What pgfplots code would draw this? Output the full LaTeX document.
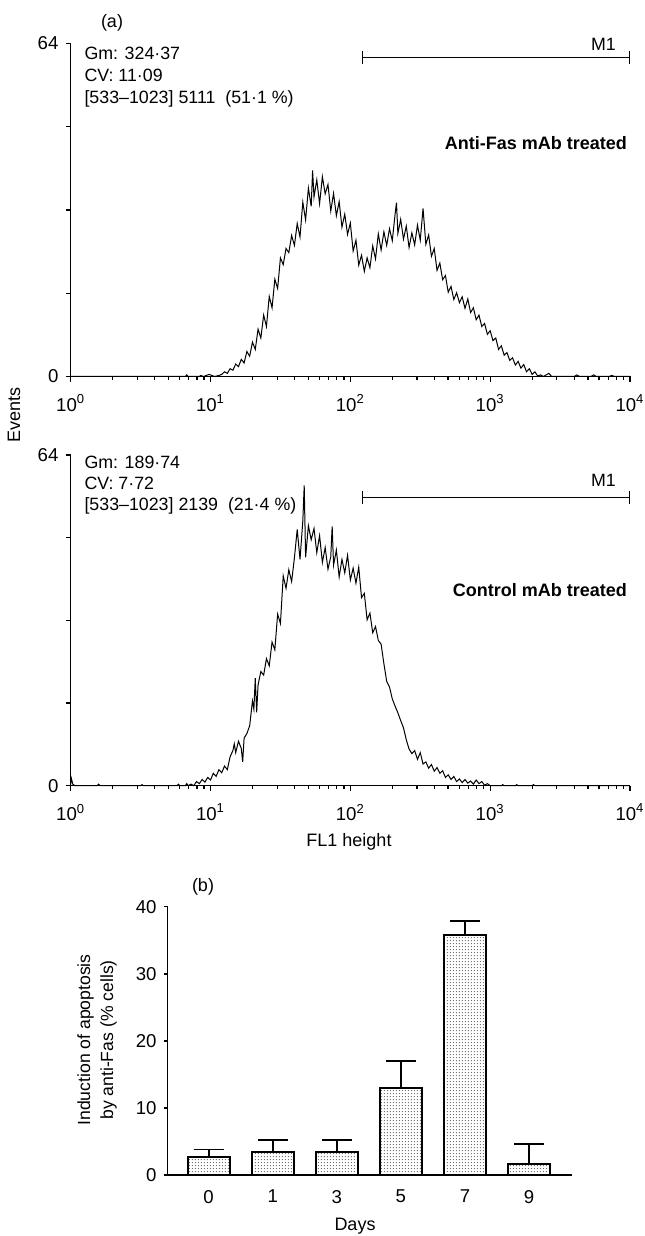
\documentclass[border=0pt]{standalone}
\usepackage{fontspec}
\setmainfont{Liberation Sans}
\usepackage{pgfplots}
\pgfplotsset{compat=1.18}
\usetikzlibrary{patterns}

% fine dot screen used for the bars
\pgfdeclarepatternformonly{finedots}{\pgfpointorigin}{\pgfqpoint{1.6pt}{1.6pt}}{\pgfqpoint{1.6pt}{1.6pt}}{%
  \pgfpathcircle{\pgfqpoint{0.8pt}{0.8pt}}{0.33pt}\pgfusepath{fill}}

\tikzset{ann/.style={font=\fontsize{8.9}{10}\selectfont, inner sep=0pt}}

\pgfplotsset{
  histo/.style={
    scale only axis, width=279.65pt,
    xmin=0, xmax=4, ymin=0, ymax=64,
    axis x line*=bottom, axis y line*=left,
    axis line style={line width=0.6pt},
    tick align=outside, major tick length=2.6pt, minor tick length=1.8pt,
    tick style={black, line width=0.6pt},
    xtick={0,1,2,3,4},
    xticklabels={10\textsuperscript{0},10\textsuperscript{1},10\textsuperscript{2},10\textsuperscript{3},10\textsuperscript{4}},
    minor xtick={0.301,0.477,0.602,0.699,0.778,0.845,0.903,0.954,
                 1.301,1.477,1.602,1.699,1.778,1.845,1.903,1.954,
                 2.301,2.477,2.602,2.699,2.778,2.845,2.903,2.954,
                 3.301,3.477,3.602,3.699,3.778,3.845,3.903,3.954},
    ytick={0,16,32,48,64}, yticklabels={0,,,,64},
    ticklabel style={font=\fontsize{9.3}{10}\selectfont},
    xticklabel style={yshift=-3pt},
    /pgf/number format/assume math mode=true,
    clip=false,
  },
}

\begin{document}
\begin{tikzpicture}
\useasboundingbox (0,0) rectangle (322pt,618pt);

% ---------- (a) anti-Fas treated ----------
\begin{axis}[histo, height=166.5pt, at={(35.35pt,429.75pt)}, anchor=south west]
\addplot[black, line width=0.5pt] table {
x y
0 0
0.82 0
0.83 0.3
0.84 0
0.92 0
0.93 0.2
0.95 0
0.99 0.4
1.01 0.2
1.03 0
1.06 0.2
1.08 0.4
1.10 0.9
1.12 0.6
1.14 1.5
1.16 1.2
1.18 2.4
1.20 1.9
1.22 3.3
1.24 2.6
1.26 4.8
1.28 3.9
1.30 6.6
1.32 5.2
1.34 9.1
1.36 7.4
1.38 11.8
1.40 9.6
1.42 15.4
1.44 13.2
1.46 18.7
1.48 16.9
1.50 22.8
1.52 21.5
1.54 24.6
1.56 23.8
1.58 27.1
1.60 25.2
1.62 29.4
1.64 26.8
1.66 33.5
1.68 30.1
1.70 36.2
1.72 32.7
1.73 39.6
1.74 34.5
1.76 37.8
1.78 33.2
1.80 38.4
1.82 35.1
1.84 36.9
1.86 31.8
1.88 35.2
1.90 30.9
1.92 33.6
1.94 28.7
1.96 31.2
1.98 27.3
2.00 29.5
2.02 24.1
2.04 26.2
2.06 21.4
2.08 23.3
2.10 20.2
2.12 22.8
2.14 20.9
2.16 25.1
2.18 22.6
2.20 27.4
2.22 24.3
2.24 27.8
2.26 25.2
2.28 28.4
2.30 26.1
2.32 31.2
2.33 33.4
2.34 27.5
2.36 30.2
2.38 26.4
2.40 28.9
2.42 24.8
2.44 27.6
2.46 25.3
2.48 29.1
2.50 26.2
2.52 32.3
2.54 25.4
2.56 27.2
2.58 23.1
2.60 24.6
2.62 20.4
2.64 21.8
2.66 18.6
2.68 19.4
2.70 16.2
2.72 17.3
2.74 14.8
2.76 16.1
2.78 14.2
2.80 15.3
2.82 13.1
2.84 14.9
2.86 12.3
2.88 13.2
2.90 10.9
2.92 11.8
2.94 9.6
2.96 10.2
2.98 8.1
3.00 8.8
3.02 6.9
3.04 7.4
3.06 5.2
3.08 5.9
3.10 4.1
3.12 4.6
3.14 3.1
3.16 3.6
3.18 2.2
3.20 2.9
3.22 1.6
3.24 2.3
3.26 0.9
3.28 1.5
3.30 0.4
3.32 0.9
3.34 0.1
3.36 0.3
3.38 0
3.42 0.6
3.44 0
3.60 0
3.62 0.3
3.64 0
3.72 0
3.74 0.3
3.76 0
3.85 0
3.87 0.2
3.89 0
4.00 0
};
\draw[|-|, line width=0.6pt] (axis cs:2.08,61.3) -- (axis cs:4,61.3);
\node[ann, anchor=base] at (axis cs:3.81,62.6) {M1};
\node[ann, anchor=base west] at (rel axis cs:0.024,0.952) {Gm: 324·37};
\node[ann, anchor=base west] at (rel axis cs:0.024,0.886) {CV: 11·09};
\node[ann, anchor=base west] at (rel axis cs:0.024,0.820) {[533–1023] 5111\ \ (51·1 \%)};
\node[ann, anchor=east, font=\fontsize{9}{10}\selectfont\bfseries] at (axis cs:3.98,44.9) {Anti-Fas mAb treated};
\end{axis}

% ---------- control mAb treated ----------
\begin{axis}[histo, height=165.35pt, at={(35.35pt,225.15pt)}, anchor=south west]
\addplot[black, line width=0.5pt] table {
x y
0 0.2
0.005 1.4
0.015 0.3
0.03 0
0.19 0
0.20 0.3
0.21 0
0.50 0
0.51 0.2
0.52 0
0.76 0
0.77 0.3
0.78 0
0.82 0
0.83 0.4
0.84 0
0.86 0.3
0.88 0
0.90 0.8
0.92 0.4
0.94 1.2
0.96 0.7
0.98 1.6
1.00 1.1
1.02 2.4
1.04 1.8
1.06 3.1
1.08 2.5
1.10 3.8
1.12 3.1
1.14 5.6
1.16 6.8
1.17 8.1
1.18 6.4
1.20 8.6
1.22 7.2
1.23 4.6
1.24 9.2
1.26 10.1
1.28 11.6
1.30 16.4
1.31 14.8
1.32 20.8
1.33 14.2
1.34 19.5
1.36 22.1
1.38 21.4
1.40 24.6
1.42 23.2
1.44 27.8
1.46 26.3
1.48 33.2
1.50 31.4
1.52 40.6
1.54 38.2
1.56 41.8
1.58 39.5
1.60 44.1
1.62 49.6
1.64 43.8
1.66 51.2
1.67 58.1
1.68 44.2
1.70 50.3
1.72 47.6
1.74 49.8
1.76 45.1
1.78 48.4
1.80 43.2
1.82 46.1
1.84 41.9
1.86 44.3
1.87 50.2
1.88 42.7
1.90 45.6
1.92 40.4
1.94 43.8
1.96 41.2
1.98 44.6
2.00 39.8
2.02 42.1
2.04 39.2
2.06 42.3
2.08 36.4
2.10 37.2
2.12 32.1
2.14 33.4
2.16 29.6
2.18 30.8
2.20 28.1
2.22 27.4
2.24 23.6
2.26 20.2
2.28 19.1
2.30 16.8
2.32 15.4
2.34 14.1
2.36 12.6
2.38 11.2
2.40 8.9
2.42 7.1
2.44 6.2
2.46 6.8
2.48 5.1
2.50 6.4
2.52 4.2
2.54 4.6
2.56 3.4
2.58 4.1
2.60 2.8
2.62 3.5
2.64 2.4
2.66 2.9
2.68 1.6
2.70 2.1
2.72 1.2
2.74 1.8
2.76 0.8
2.78 1.3
2.80 0.6
2.82 1.2
2.84 0.5
2.86 0.9
2.88 0.3
2.90 1.1
2.92 0.4
2.94 0.8
2.96 0.1
2.98 0.4
3.00 0
3.08 0
3.09 0.2
3.10 0
3.18 0
3.19 0.2
3.20 0
3.30 0
3.31 0.2
3.32 0
4.00 0
};
\draw[|-|, line width=0.6pt] (axis cs:2.08,55.7) -- (axis cs:4,55.7);
\node[ann, anchor=base] at (axis cs:3.81,58.0) {M1};
\node[ann, anchor=base west] at (rel axis cs:0.024,0.958) {Gm: 189·74};
\node[ann, anchor=base west] at (rel axis cs:0.024,0.897) {CV: 7·72};
\node[ann, anchor=base west] at (rel axis cs:0.024,0.833) {[533–1023] 2139\ \ (21·4 \%)};
\node[ann, anchor=east, font=\fontsize{9}{10}\selectfont\bfseries] at (axis cs:3.98,37.9) {Control mAb treated};
\end{axis}

\node[ann, font=\fontsize{9}{10}\selectfont] at (56pt,606.5pt) {(a)};
\node[ann, rotate=90, font=\fontsize{9}{10}\selectfont] at (7pt,410.5pt) {Events};
\node[ann, font=\fontsize{9}{10}\selectfont] at (174.5pt,197pt) {FL1 height};

% ---------- (b) bar chart ----------
\begin{axis}[
  scale only axis, width=202.05pt, height=134.15pt,
  at={(83.8pt,30.5pt)}, anchor=south west,
  xmin=-0.64, xmax=5.665, ymin=0, ymax=40,
  axis x line*=bottom, axis y line*=left,
  axis line style={line width=0.8pt},
  xtick={0,1,2,3,4,5}, xticklabels={0,1,3,5,7,9},
  ytick={0,10,20,30,40},
  tick align=outside, major tick length=2pt,
  ytick style={black, line width=0.8pt},
  xtick style={draw=none},
  ticklabel style={font=\fontsize{9.3}{10}\selectfont},
  xticklabel style={yshift=-2pt},
  /pgf/number format/assume math mode=true,
  clip=false,
]
\addplot[ybar, bar width=21pt, draw=black, line width=0.9pt,
  pattern=finedots, pattern color=black!75,
  error bars/.cd, y dir=plus, y explicit,
  error bar style={line width=0.9pt, black},
  error mark options={rotate=90, mark size=7.5pt, line width=0.9pt, black}]
coordinates {
  (0,2.7) +- (0,1.1)
  (1,3.4) +- (0,1.8)
  (2,3.4) +- (0,1.8)
  (3,13.0) +- (0,4.0)
  (4,35.8) +- (0,2.1)
  (5,1.6) +- (0,3.0)
};
\end{axis}

\node[ann, font=\fontsize{9}{10}\selectfont] at (101.5pt,174.5pt) {(b)};
\node[ann, rotate=90, align=center, font=\fontsize{8.8}{11.5}\selectfont] at (48.5pt,98pt) {Induction of apoptosis\\by anti-Fas (\% cells)};
\node[ann, font=\fontsize{9}{10}\selectfont] at (177.5pt,5pt) {Days};
\end{tikzpicture}
\end{document}
